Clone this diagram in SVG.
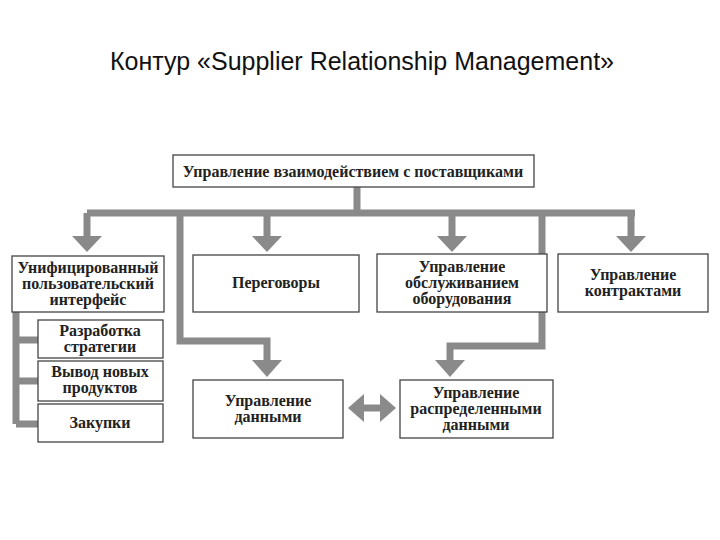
<svg xmlns="http://www.w3.org/2000/svg" width="720" height="540" viewBox="0 0 720 540">
<style>
.b{fill:#fff;stroke:#444;stroke-width:1.3}
.t{font-family:"Liberation Serif",serif;font-size:16px;font-weight:bold;fill:#222;text-anchor:middle}
.c{fill:none;stroke:#8a8a8a;stroke-width:7}
.h{fill:#8a8a8a}
</style>
<rect width="720" height="540" fill="#fff"/>
<text x="362" y="70" font-family="Liberation Sans,sans-serif" font-size="25" text-anchor="middle" fill="#111">Контур «Supplier Relationship Management»</text>
<g id="connectors">
<path class="c" d="M357 187V213M87 213H635M87 213V238M267 213V238M452 213V238M631 213V238"/>
<path class="c" d="M180 213V341H267V362M542 213V346H450V362"/>
<path class="c" d="M16 312V424M16 340H38M16 381H38M16 424H38"/>
<polygon class="h" points="72,236 102,236 87,252"/>
<polygon class="h" points="252,236 282,236 267,252"/>
<polygon class="h" points="437,236 467,236 452,252"/>
<polygon class="h" points="616,236 646,236 631,252"/>
<polygon class="h" points="252,360 282,360 267,377"/>
<polygon class="h" points="435,360 465,360 450,377"/>
<path class="c" d="M362 408H382"/>
<polygon class="h" points="348,408 364,394 364,422"/>
<polygon class="h" points="396,408 380,394 380,422"/>
</g>
<g id="top"><rect class="b" x="173" y="155" width="361" height="32"/><text class="t" x="353" y="177">Управление взаимодействием с поставщиками</text></g>
<g id="ui"><rect class="b" x="12" y="256" width="152" height="56"/><text class="t" x="88" y="273">Унифицированный</text><text class="t" x="88" y="289">пользовательский</text><text class="t" x="88" y="305">интерфейс</text></g>
<g id="neg"><rect class="b" x="193" y="255" width="166" height="57"/><text class="t" x="276" y="288">Переговоры</text></g>
<g id="equip"><rect class="b" x="377" y="254" width="170" height="58"/><text class="t" x="462" y="272">Управление</text><text class="t" x="462" y="288">обслуживанием</text><text class="t" x="462" y="304">оборудования</text></g>
<g id="contr"><rect class="b" x="558" y="254" width="150" height="58"/><text class="t" x="633" y="280">Управление</text><text class="t" x="633" y="296">контрактами</text></g>
<g id="strat"><rect class="b" x="38" y="320" width="125" height="38"/><text class="t" x="100" y="336">Разработка</text><text class="t" x="100" y="352">стратегии</text></g>
<g id="prod"><rect class="b" x="38" y="361" width="125" height="40"/><text class="t" x="100" y="377">Вывод новых</text><text class="t" x="100" y="393">продуктов</text></g>
<g id="purch"><rect class="b" x="38" y="404" width="125" height="38"/><text class="t" x="100" y="428">Закупки</text></g>
<g id="data"><rect class="b" x="193" y="380" width="150" height="58"/><text class="t" x="268" y="406">Управление</text><text class="t" x="268" y="422">данными</text></g>
<g id="dist"><rect class="b" x="400" y="380" width="153" height="58"/><text class="t" x="476" y="398">Управление</text><text class="t" x="476" y="414">распределенными</text><text class="t" x="476" y="430">данными</text></g>
</svg>
